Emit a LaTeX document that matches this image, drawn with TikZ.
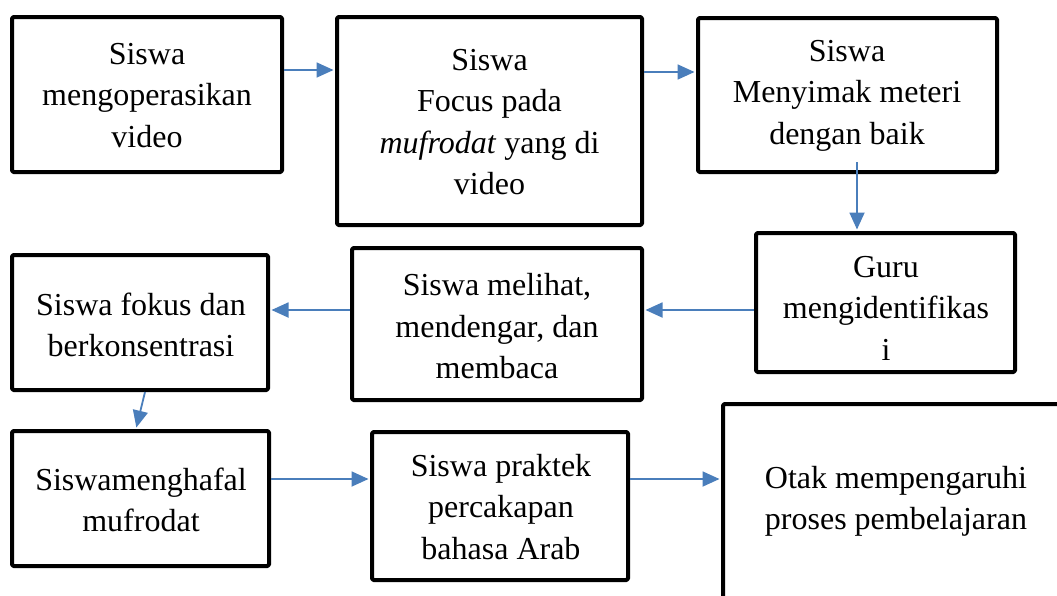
\documentclass[tikz,border=0pt]{standalone}
\usepackage{fontspec}
\setmainfont{Liberation Serif}
\usetikzlibrary{arrows.meta}
\definecolor{arrowblue}{RGB}{74,126,187}
\begin{document}
\begin{tikzpicture}[x=1pt,y=-1pt,
  box/.style={draw=black, line width=4pt, line join=round, rounded corners=1.5pt, inner sep=0pt, fill=white},
  txt/.style={align=center, font=\fontsize{32}{41.5}\selectfont, inner sep=0pt},
  arr/.style={draw=arrowblue, line width=1.8pt, shorten >=1.5pt, -{Triangle[length=17pt,width=15pt]}}]
\useasboundingbox (0,0) rectangle (1057,595);
\fill[white] (0,0) rectangle (1057,595);
\begin{scope}
\clip (0,0) rectangle (1057,595);
\node[box, minimum width=270pt, minimum height=155pt] (b1) at (147,94.5) {};
\node[box, minimum width=305pt, minimum height=208pt] (b2) at (489.5,121) {};
\node[box, minimum width=299pt, minimum height=154pt] (b3) at (847.5,95) {};
\node[box, minimum width=259pt, minimum height=139pt] (b4) at (885.5,302.5) {};
\node[box, minimum width=290pt, minimum height=152pt] (b5) at (497,324) {};
\node[box, minimum width=256pt, minimum height=135pt] (b6) at (140,322.5) {};
\node[box, minimum width=257pt, minimum height=135pt] (b7) at (140.5,498.5) {};
\node[box, minimum width=256pt, minimum height=148pt] (b8) at (500,506) {};
\node[box, minimum width=352pt, minimum height=236pt] (b9) at (899,522) {};
\end{scope}

\node[txt] (t1) at (147,95.5) {Siswa\\mengoperasikan\\video};
\node[txt] (t2) at (489.5,122) {Siswa\\Focus pada\\\textit{mufrodat} yang di\\video};
\node[txt] (t3) at (847,95.5) {Siswa\\Menyimak meteri\\dengan baik};
\node[txt] (t4) at (886,308) {Guru\\mengidentifikas\\i};
\node[txt] (t5) at (497,326.5) {Siswa melihat,\\mendengar, dan\\membaca};
\node[txt] (t6) at (141,325) {Siswa fokus dan\\berkonsentrasi};
\node[txt] (t7) at (141,500) {Siswamenghafal\\mufrodat};
\node[txt] (t8) at (501,507) {Siswa praktek\\percakapan\\bahasa Arab};
\node[txt] (t9) at (896,501.5) {Otak mempengaruhi\\proses pembelajaran};

\coordinate (a1s) at ([yshift=24.5pt]b1.east);
\draw[arr] (a1s) -- (a1s -| b2.west);
\coordinate (a2s) at ([yshift=49pt]b2.east);
\draw[arr] (a2s) -- (a2s -| b3.west);
\coordinate (a3s) at ([xshift=9.5pt,yshift=12pt]b3.south);
\draw[arr] (a3s) -- (a3s |- b4.north);
\coordinate (a4s) at ([yshift=-7.5pt]b4.west);
\draw[arr] (a4s) -- (a4s -| b5.east);
\coordinate (a5s) at ([yshift=14pt]b5.west);
\draw[arr] (a5s) -- (a5s -| b6.east);
\draw[arr] ([xshift=5pt]b6.south) -- ([xshift=-4.5pt]b7.north);
\coordinate (a7s) at ([yshift=19.5pt]b7.east);
\draw[arr] (a7s) -- (a7s -| b8.west);
\coordinate (a8s) at ([yshift=27pt]b8.east);
\draw[arr] (a8s) -- (a8s -| b9.west);
\end{tikzpicture}
\end{document}
